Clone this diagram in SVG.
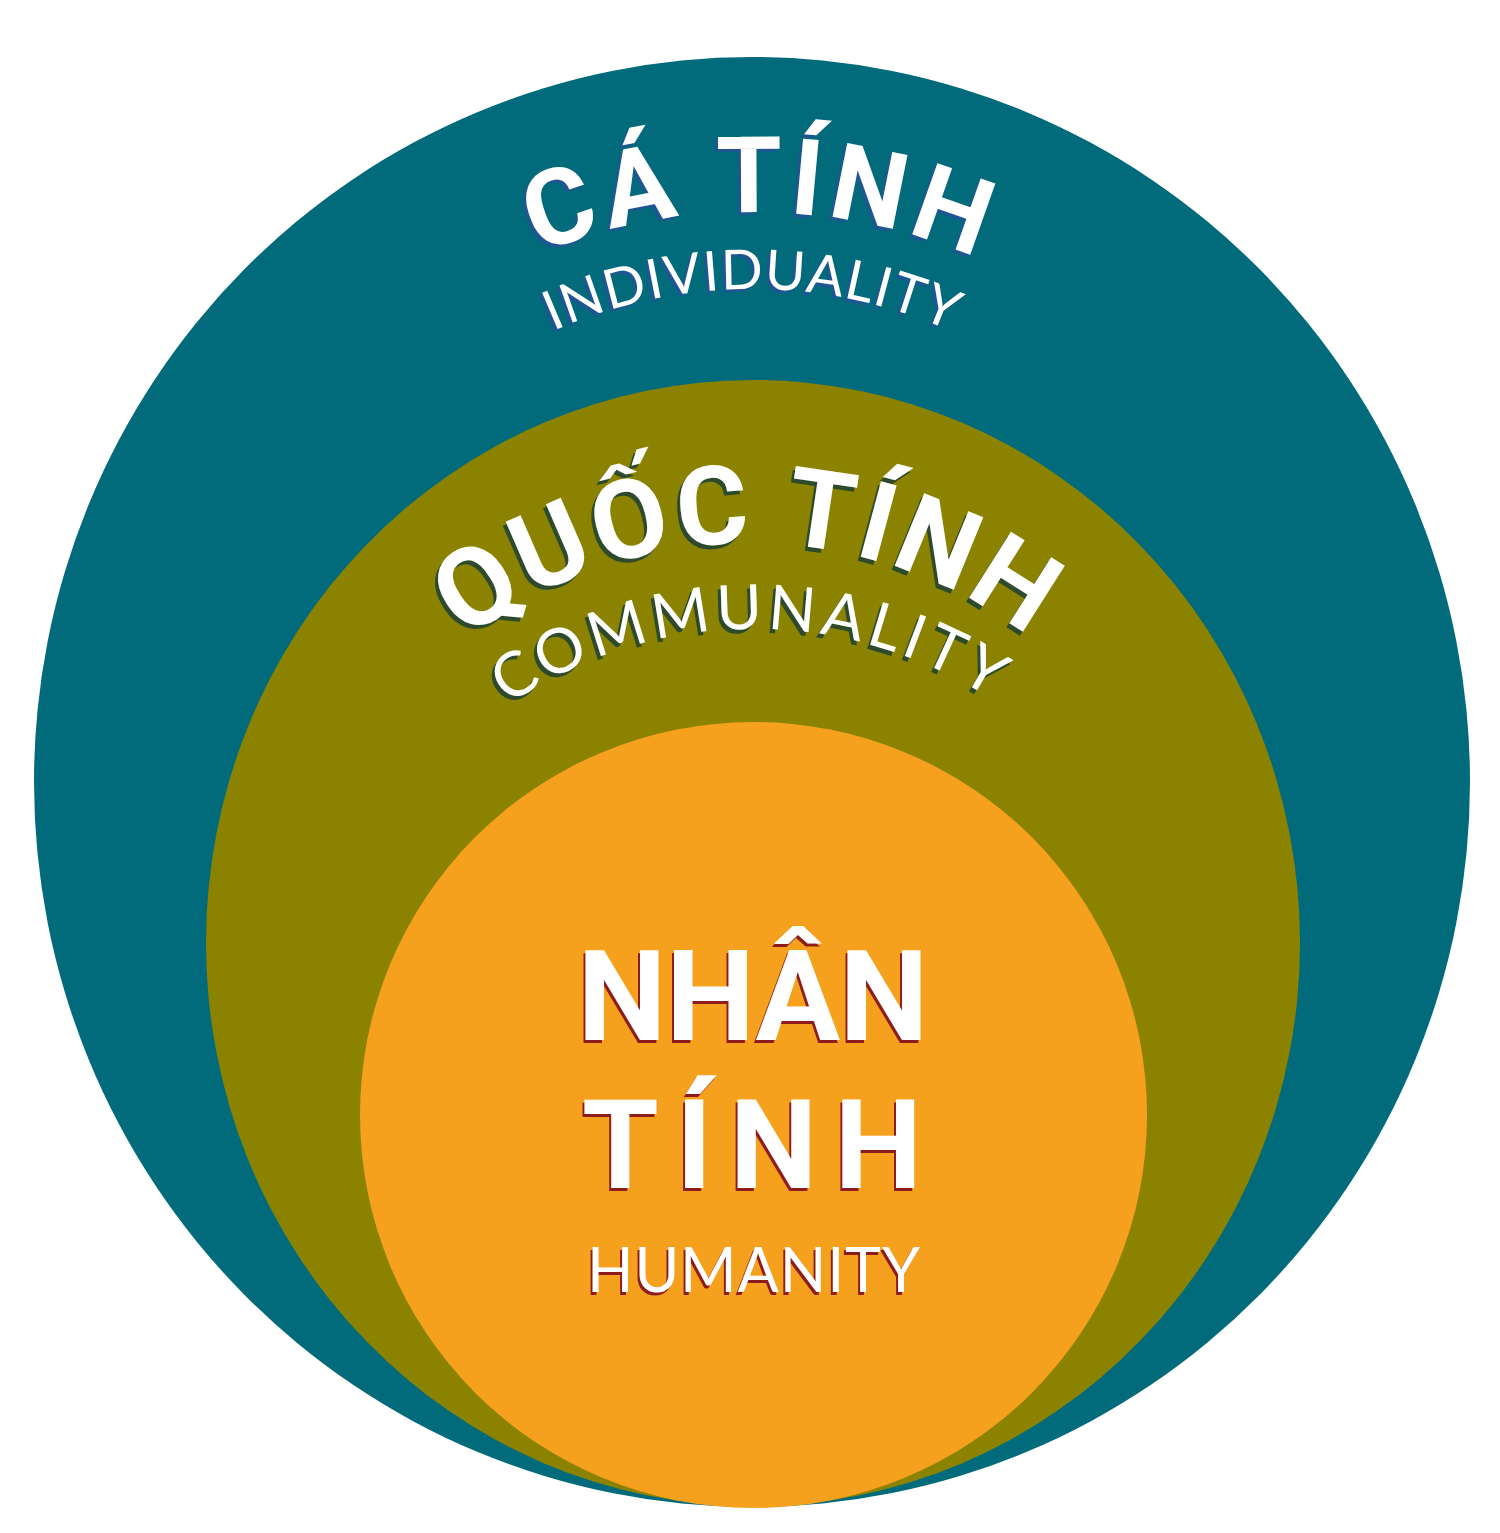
<svg xmlns="http://www.w3.org/2000/svg" xmlns:xlink="http://www.w3.org/1999/xlink" width="1500" height="1533" viewBox="0 0 1500 1533">
<style>
.big{font-family:"Roboto","Open Sans","Noto Sans","Liberation Sans",sans-serif;font-weight:700;fill:#fff}
.sub{font-family:"Lato","Roboto","Noto Sans","Liberation Sans",sans-serif;font-weight:400;fill:#fff}
.shB{fill:#1d5690}
.shG{fill:#2e4a2c}
.shR{fill:#8e1c1c}
</style>
<defs>
<path id="arcCa" d="M184 780 A568 568 0 0 1 1320 780"/>
<path id="arcInd" d="M261 780 A491 491 0 0 1 1243 780"/>
<path id="arcQuoc" d="M287 1005 A462 462 0 0 1 1211 1005"/>
<path id="arcCom" d="M318 1065 A436 436 0 0 1 1190 1065"/>
</defs>
<rect width="1500" height="1533" fill="#fff"/>
<g id="individuality">
<ellipse cx="752" cy="782" rx="718" ry="725" fill="#026b7b"/>
<g transform="translate(-3,3)">
<text class="big shB" font-size="106"><textPath xlink:href="#arcCa" href="#arcCa" startOffset="50.3%" text-anchor="middle" textLength="450" lengthAdjust="spacing">CÁ TÍNH</textPath></text>
<text class="sub shB" font-size="55"><textPath xlink:href="#arcInd" href="#arcInd" startOffset="50%" text-anchor="middle" textLength="410" lengthAdjust="spacing">INDIVIDUALITY</textPath></text>
</g>
<text class="big" font-size="106"><textPath xlink:href="#arcCa" href="#arcCa" startOffset="50.3%" text-anchor="middle" textLength="450" lengthAdjust="spacing">CÁ TÍNH</textPath></text>
<text class="sub" font-size="55"><textPath xlink:href="#arcInd" href="#arcInd" startOffset="50%" text-anchor="middle" textLength="410" lengthAdjust="spacing">INDIVIDUALITY</textPath></text>
</g>
<g id="communality">
<ellipse cx="753" cy="943" rx="547" ry="563" fill="#8b8300"/>
<g transform="translate(-3,4)">
<text class="big shG" font-size="110"><textPath xlink:href="#arcQuoc" href="#arcQuoc" startOffset="49.8%" text-anchor="middle" textLength="605" lengthAdjust="spacing">QUỐC TÍNH</textPath></text>
<text class="sub shG" font-size="62"><textPath xlink:href="#arcCom" href="#arcCom" startOffset="49.6%" text-anchor="middle" textLength="512" lengthAdjust="spacing">COMMUNALITY</textPath></text>
</g>
<text class="big" font-size="110"><textPath xlink:href="#arcQuoc" href="#arcQuoc" startOffset="49.8%" text-anchor="middle" textLength="605" lengthAdjust="spacing">QUỐC TÍNH</textPath></text>
<text class="sub" font-size="62"><textPath xlink:href="#arcCom" href="#arcCom" startOffset="49.6%" text-anchor="middle" textLength="512" lengthAdjust="spacing">COMMUNALITY</textPath></text>
</g>
<g id="humanity">
<ellipse cx="753.5" cy="1115" rx="393.5" ry="393" fill="#f6a11d"/>
<g transform="translate(-2,3)">
<text class="big shR" x="753" y="1040" font-size="126" text-anchor="middle" textLength="351" lengthAdjust="spacing">NHÂN</text>
<text class="big shR" x="752" y="1188" font-size="124" text-anchor="middle" textLength="340" lengthAdjust="spacing">TÍNH</text>
<text class="sub shR" x="753.5" y="1292" font-size="61" text-anchor="middle" textLength="333" lengthAdjust="spacing">HUMANITY</text>
</g>
<text class="big" x="753" y="1040" font-size="126" text-anchor="middle" textLength="351" lengthAdjust="spacing">NHÂN</text>
<text class="big" x="752" y="1188" font-size="124" text-anchor="middle" textLength="340" lengthAdjust="spacing">TÍNH</text>
<text class="sub" x="753.5" y="1292" font-size="61" text-anchor="middle" textLength="333" lengthAdjust="spacing">HUMANITY</text>
</g>
</svg>
